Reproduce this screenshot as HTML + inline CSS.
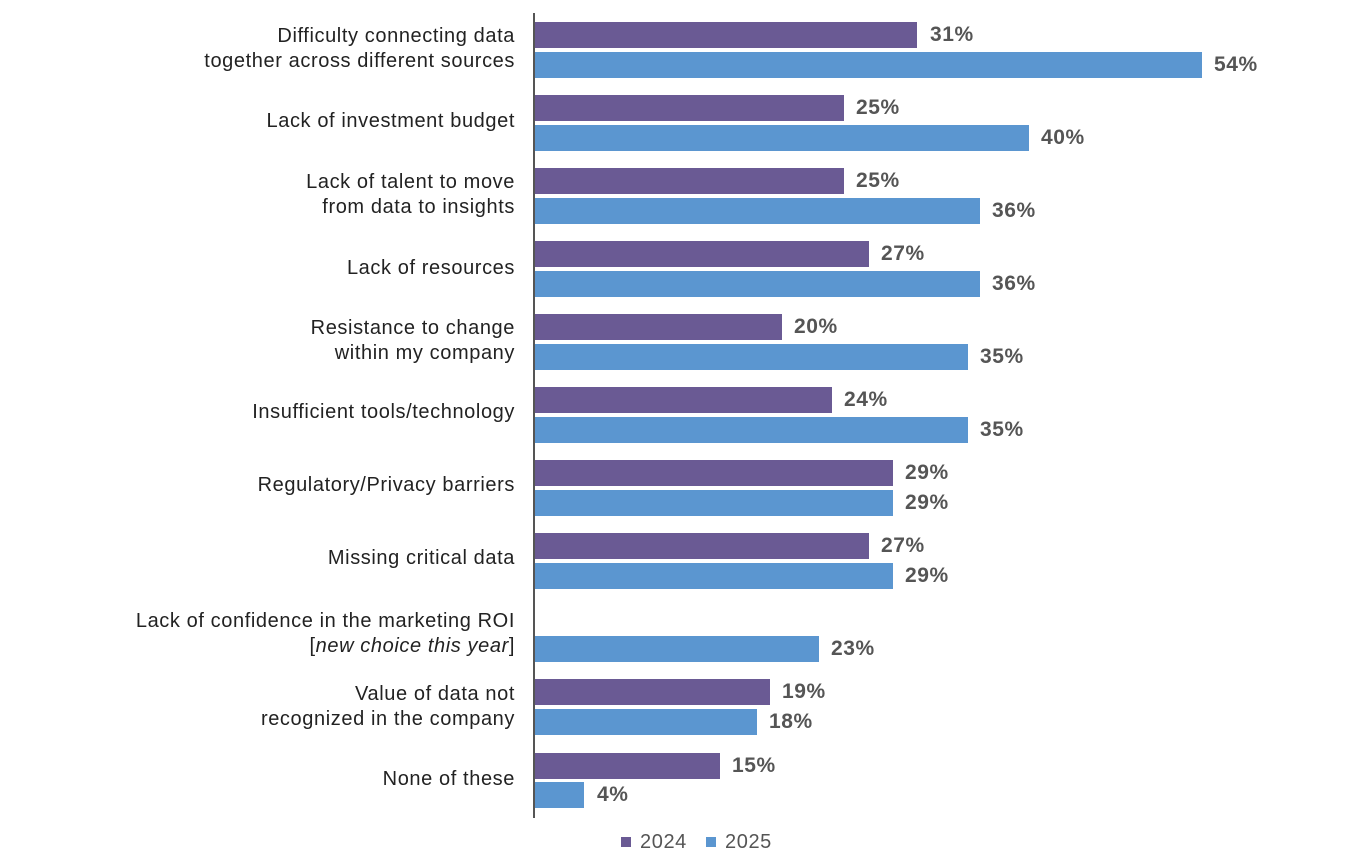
<!DOCTYPE html>
<html><head><style>
body{margin:0;width:1361px;height:857px;background:#fff;position:relative;overflow:hidden;font-family:"Liberation Sans",sans-serif}
.b{position:absolute;left:535px;height:26px}
.p{background:#6a5a94}.c{background:#5b96d0}
.v{position:absolute;font-weight:bold;font-size:21px;letter-spacing:0.6px;color:#555;line-height:26px}
.l{position:absolute;right:846px;text-align:right;font-size:20px;letter-spacing:0.6px;color:#222;line-height:25px;white-space:nowrap}
</style></head><body>
<div style="position:absolute;left:533px;top:13px;width:2px;height:805px;background:#555"></div>

<div class="l" style="top:24px">Difficulty connecting data<br>together across different sources</div>
<div class="b p" style="top:22px;width:382px"></div><div class="v" style="top:22px;left:930px">31%</div>
<div class="b c" style="top:52px;width:667px"></div><div class="v" style="top:52px;left:1214px">54%</div>

<div class="l" style="top:109px">Lack of investment budget</div>
<div class="b p" style="top:95px;width:309px"></div><div class="v" style="top:95px;left:856px">25%</div>
<div class="b c" style="top:125px;width:494px"></div><div class="v" style="top:125px;left:1041px">40%</div>

<div class="l" style="top:170px">Lack of talent to move<br>from data to insights</div>
<div class="b p" style="top:168px;width:309px"></div><div class="v" style="top:168px;left:856px">25%</div>
<div class="b c" style="top:198px;width:445px"></div><div class="v" style="top:198px;left:992px">36%</div>

<div class="l" style="top:256px">Lack of resources</div>
<div class="b p" style="top:241px;width:334px"></div><div class="v" style="top:241px;left:881px">27%</div>
<div class="b c" style="top:271px;width:445px"></div><div class="v" style="top:271px;left:992px">36%</div>

<div class="l" style="top:316px">Resistance to change<br>within my company</div>
<div class="b p" style="top:314px;width:247px"></div><div class="v" style="top:314px;left:794px">20%</div>
<div class="b c" style="top:344px;width:433px"></div><div class="v" style="top:344px;left:980px">35%</div>

<div class="l" style="top:400px">Insufficient tools/technology</div>
<div class="b p" style="top:387px;width:297px"></div><div class="v" style="top:387px;left:844px">24%</div>
<div class="b c" style="top:417px;width:433px"></div><div class="v" style="top:417px;left:980px">35%</div>

<div class="l" style="top:473px">Regulatory/Privacy barriers</div>
<div class="b p" style="top:460px;width:358px"></div><div class="v" style="top:460px;left:905px">29%</div>
<div class="b c" style="top:490px;width:358px"></div><div class="v" style="top:490px;left:905px">29%</div>

<div class="l" style="top:546px">Missing critical data</div>
<div class="b p" style="top:533px;width:334px"></div><div class="v" style="top:533px;left:881px">27%</div>
<div class="b c" style="top:563px;width:358px"></div><div class="v" style="top:563px;left:905px">29%</div>

<div class="l" style="top:609px">Lack of confidence in the marketing ROI<br>[<i>new choice this year</i>]</div>
<div class="b c" style="top:636px;width:284px"></div><div class="v" style="top:636px;left:831px">23%</div>

<div class="l" style="top:682px">Value of data not<br>recognized in the company</div>
<div class="b p" style="top:679px;width:235px"></div><div class="v" style="top:679px;left:782px">19%</div>
<div class="b c" style="top:709px;width:222px"></div><div class="v" style="top:709px;left:769px">18%</div>

<div class="l" style="top:767px">None of these</div>
<div class="b p" style="top:753px;width:185px"></div><div class="v" style="top:753px;left:732px">15%</div>
<div class="b c" style="top:782px;width:49px"></div><div class="v" style="top:782px;left:597px">4%</div>

<div style="position:absolute;left:621px;top:837px;width:10px;height:10px;background:#6a5a94"></div>
<div style="position:absolute;left:640px;top:831px;font-size:20px;letter-spacing:0.6px;color:#555;line-height:22px">2024</div>
<div style="position:absolute;left:706px;top:837px;width:10px;height:10px;background:#5b96d0"></div>
<div style="position:absolute;left:725px;top:831px;font-size:20px;letter-spacing:0.6px;color:#555;line-height:22px">2025</div>
</body></html>
